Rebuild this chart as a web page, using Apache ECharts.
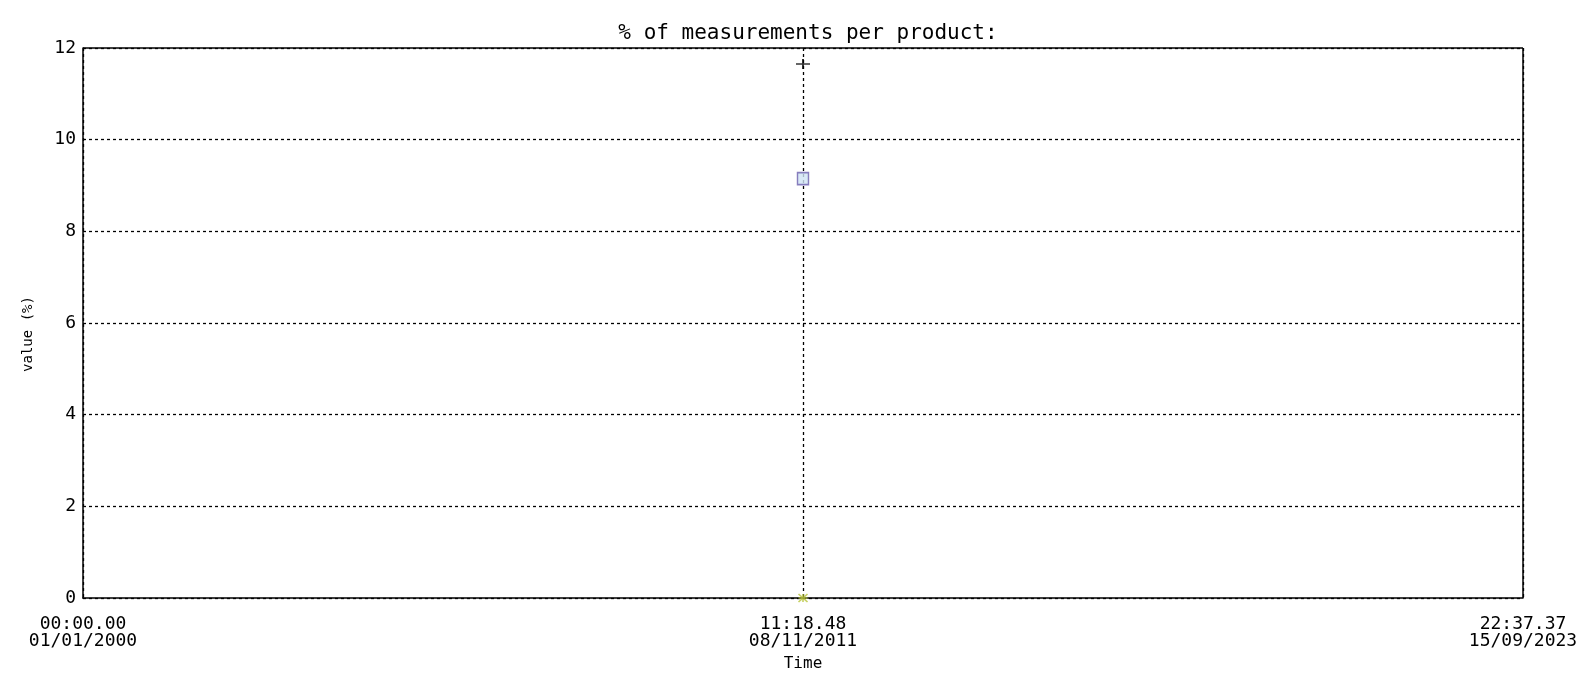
<!DOCTYPE html>
<html>
<head>
<meta charset="utf-8">
<script src="https://cdn.jsdelivr.net/npm/echarts@6/dist/echarts.min.js"></script>
<style>html,body{margin:0;padding:0;background:#fff}#c{width:1594px;height:679px}</style>
</head>
<body>
<div id="c"></div>
<script>
// Axis range (time)
const timeStart = '2000-01-01T00:00:00Z';
const timeEnd = '2023-09-15T22:37:37Z';
// Series: one measurement time for each product
const pointTime = '2011-11-08T11:18:48Z';
const seriesNames = ['product A', 'product B', 'product C'];
const seriesValues = [11.65, 9.15, 0];
const yTicks = [0, 2, 4, 6, 8, 10, 12];

const t0 = Date.parse(timeStart);
const t1 = Date.parse(timeEnd);
const span = (t1 - t0) / 1000; // seconds
function toSec(s) { return (Date.parse(s) - t0) / 1000; }
function pad(n) { return String(n).padStart(2, '0'); }
function fmt(sec) {
  const d = new Date(t0 + Math.floor(sec) * 1000);
  return pad(d.getUTCHours()) + ':' + pad(d.getUTCMinutes()) + '.' + pad(d.getUTCSeconds()) + '\n' +
    pad(d.getUTCDate()) + '/' + pad(d.getUTCMonth() + 1) + '/' + d.getUTCFullYear();
}

const symbols = [
  'path://M0,4.3L6,4.3L6,0L8,0L8,4.3L14,4.3L14,5.7L8,5.7L8,10L6,10L6,5.7L0,5.7Z',
  'rect',
  'path://M0,0L10,10M10,0L0,10M5,0L5,10M0,5L10,5'
];
const styles = [
  { color: '#000', borderWidth: 0 },
  { color: '#cfe4f4', borderColor: '#6d5fae', borderWidth: 1.5 },
  { color: 'none', borderColor: '#b8c43a', borderWidth: 1.5 }
];
const sizes = [[14, 10], [11, 12], [9, 8]];

const font = 'DejaVu Sans Mono';
const gridDash = { color: '#000', type: [3, 3], width: 1.3 };
const chart = echarts.init(document.getElementById('c'));
chart.setOption({
  animation: false,
  backgroundColor: '#fff',
  title: {
    text: '% of measurements per product:',
    left: 803, top: 18, textAlign: 'center',
    textStyle: { fontFamily: font, fontWeight: 'normal', fontSize: 21, color: '#000' }
  },
  grid: { left: 83, top: 48, right: 71, bottom: 81 },
  xAxis: {
    type: 'value', min: 0, max: span, interval: span / 2,
    name: 'Time', nameLocation: 'middle', nameGap: 57,
    nameTextStyle: { fontFamily: font, fontSize: 16, color: '#000' },
    axisLine: { show: true, lineStyle: { color: '#000', width: 1.5 } },
    axisTick: { show: false },
    axisLabel: {
      fontFamily: font, fontSize: 18, color: '#000', lineHeight: 17, margin: 18,
      showMinLabel: true, showMaxLabel: true,
      formatter: v => fmt(v)
    },
    splitLine: { show: true, lineStyle: gridDash }
  },
  yAxis: {
    type: 'value', min: yTicks[0], max: yTicks[yTicks.length - 1], interval: yTicks[1] - yTicks[0],
    name: 'value (%)', nameLocation: 'middle', nameGap: 48, nameRotate: 90,
    nameTextStyle: { fontFamily: font, fontSize: 14, color: '#000', padding: [0, 22, 0, 0] },
    axisLine: { show: true, lineStyle: { color: '#000', width: 1.5 } },
    axisTick: { show: false },
    axisLabel: { fontFamily: font, fontSize: 18, color: '#000', margin: 7 },
    splitLine: { show: true, lineStyle: gridDash }
  },
  graphic: [
    { type: 'line', shape: { x1: 83, y1: 48, x2: 1523, y2: 48 }, style: { stroke: '#000', lineWidth: 1.5 }, z: 10 },
    { type: 'line', shape: { x1: 1523, y1: 48, x2: 1523, y2: 598 }, style: { stroke: '#000', lineWidth: 1.5 }, z: 10 }
  ],
  series: seriesNames.map((n, i) => ({
    name: n, type: 'scatter',
    symbol: symbols[i], symbolSize: sizes[i],
    itemStyle: styles[i],
    z: 5,
    data: [[toSec(pointTime), seriesValues[i]]]
  }))
});
</script>
</body>
</html>
